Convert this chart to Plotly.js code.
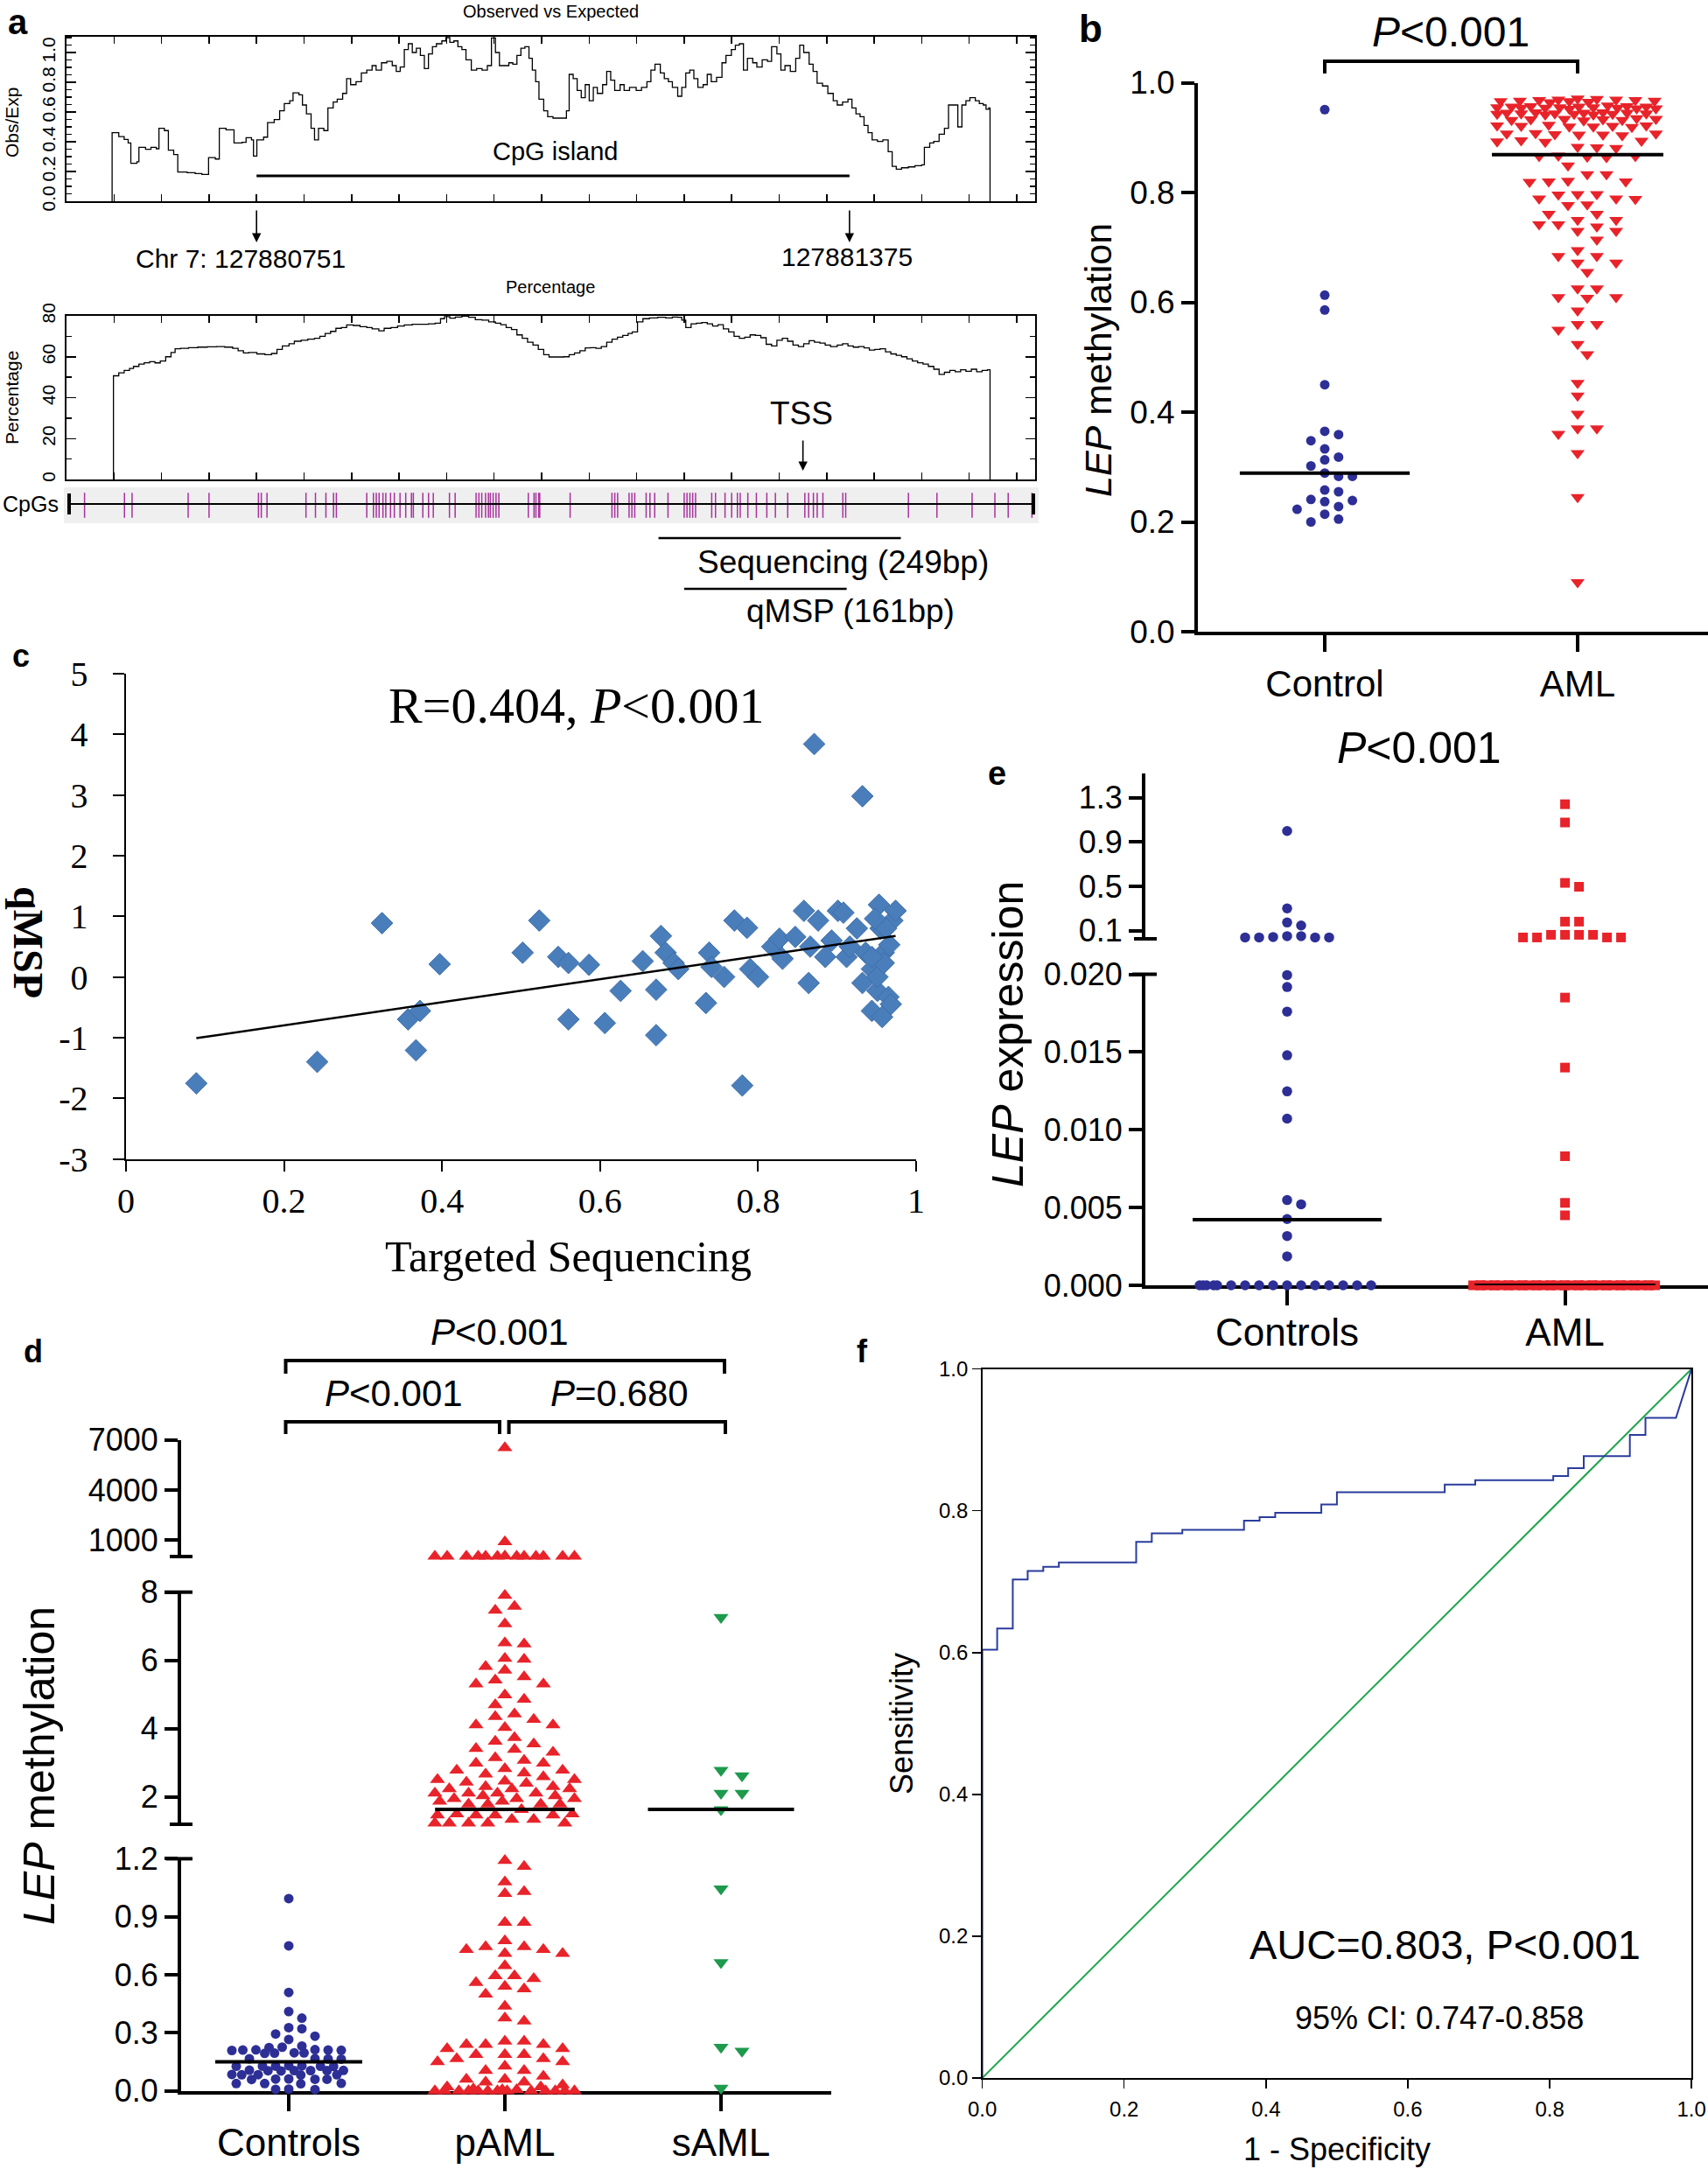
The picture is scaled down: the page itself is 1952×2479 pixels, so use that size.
<!DOCTYPE html>
<html>
<head>
<meta charset="utf-8">
<script src="https://cdn.plot.ly/plotly-3.0.1.min.js"></script>
<style>
  html, body { margin: 0; padding: 0; background: #fff; }
  #fig { width: 1952px; height: 2479px; }
</style>
</head>
<body>
<div id="fig"></div>
<script>
// ---------------- data ----------------

// a: CpG plot, positions in bp from the left edge of the window
const obsExpPos = [48.0, 48.0, 55.0, 60.7, 64.9, 67.7, 74.1, 76.2, 83.2, 88.9, 94.5, 97.3, 103.0, 107.2, 112.8, 117.1, 127.0, 135.4, 142.5, 149.5,
  156.6, 160.8, 167.9, 174.2, 176.3, 184.8, 189.0, 194.7, 196.8, 200.3, 207.4, 211.6, 218.6, 224.3, 229.2, 234.9, 238.4, 244.7, 248.3, 252.5,
  257.4, 261.0, 265.2, 270.8, 275.1, 280.7, 284.9, 290.6, 294.8, 299.0, 304.7, 310.3, 316.0, 321.6, 325.8, 331.5, 337.1, 342.8, 347.0, 351.2,
  355.5, 359.7, 363.9, 368.2, 372.4, 376.6, 380.9, 385.1, 389.3, 395.0, 399.2, 403.4, 407.7, 411.9, 416.1, 420.4, 426.0, 431.6, 437.3, 442.9,
  447.2, 451.4, 455.6, 459.9, 465.5, 469.7, 474.0, 478.2, 482.4, 486.7, 490.2, 493.7, 497.2, 502.2, 506.4, 512.0, 521.9, 526.1, 529.0, 533.2,
  537.4, 541.7, 545.9, 550.1, 554.4, 558.6, 564.2, 568.5, 572.7, 576.9, 582.6, 586.8, 592.5, 599.5, 605.1, 610.8, 615.0, 619.3, 624.9, 629.1,
  633.4, 637.6, 643.2, 647.5, 651.7, 655.9, 660.2, 664.4, 670.0, 674.3, 678.5, 684.1, 689.8, 694.0, 699.7, 703.9, 708.1, 712.4, 716.6, 722.2,
  726.5, 732.1, 737.7, 742.0, 747.6, 751.8, 756.1, 761.7, 767.4, 771.6, 775.8, 781.5, 785.7, 789.9, 795.6, 801.2, 806.9, 811.1, 816.7, 822.4,
  826.6, 830.8, 835.1, 839.3, 843.5, 847.8, 853.4, 859.1, 864.7, 868.9, 873.2, 878.8, 885.9, 892.9, 900.0, 902.8, 908.4, 912.7, 918.3, 923.9,
  928.2, 933.8, 938.0, 942.3, 946.5, 950.7, 956.4, 960.6, 964.8, 967.7, 970.5, 971.9];
const obsExpVal = [0, 0.461, 0.435, 0.416, 0.392, 0.255, 0.265, 0.363, 0.349, 0.363, 0.353, 0.490, 0.475, 0.343, 0.314, 0.196, 0.192, 0.186, 0.180, 0.294,
  0.284, 0.490, 0.480, 0.480, 0.392, 0.396, 0.427, 0.412, 0.304, 0.412, 0.431, 0.529, 0.549, 0.608, 0.657, 0.676, 0.729, 0.716, 0.647, 0.588,
  0.490, 0.412, 0.490, 0.475, 0.627, 0.667, 0.686, 0.725, 0.824, 0.784, 0.804, 0.863, 0.882, 0.912, 0.882, 0.931, 0.941, 0.912, 0.873, 0.902,
  1.020, 1.059, 1.000, 1.029, 0.980, 0.892, 0.990, 1.039, 1.059, 1.078, 1.100, 1.069, 1.078, 1.039, 1.020, 0.951, 0.882, 0.892, 0.882, 0.912,
  1.098, 1.000, 0.912, 0.912, 0.931, 0.922, 0.980, 1.029, 1.039, 0.961, 0.882, 0.804, 0.686, 0.608, 0.569, 0.559, 0.559, 0.608, 0.853, 0.824,
  0.745, 0.696, 0.784, 0.676, 0.765, 0.725, 0.784, 0.873, 0.814, 0.745, 0.784, 0.745, 0.765, 0.745, 0.765, 0.804, 0.882, 0.922, 0.863, 0.824,
  0.804, 0.765, 0.706, 0.765, 0.863, 0.882, 0.824, 0.765, 0.784, 0.853, 0.804, 0.833, 0.931, 0.980, 1.020, 1.049, 1.059, 0.882, 0.961, 0.931,
  0.902, 0.951, 0.941, 1.039, 0.990, 0.882, 0.912, 0.873, 0.961, 1.049, 1.000, 0.922, 0.873, 0.794, 0.775, 0.725, 0.676, 0.647, 0.667, 0.686,
  0.627, 0.588, 0.569, 0.510, 0.461, 0.412, 0.402, 0.412, 0.333, 0.235, 0.216, 0.225, 0.231, 0.239, 0.245, 0.363, 0.392, 0.402, 0.451, 0.490,
  0.647, 0.647, 0.500, 0.647, 0.676, 0.696, 0.676, 0.657, 0.647, 0.618, 0.627, 0];

const pctPos = [49.4, 49.4, 55.0, 60.7, 66.3, 70.5, 76.2, 81.8, 87.5, 93.1, 98.7, 104.4, 110.0, 114.3, 119.9, 128.4, 138.2, 148.1, 158.0, 166.5,
  174.9, 180.6, 186.2, 191.8, 200.3, 208.8, 215.8, 221.5, 227.1, 234.2, 239.8, 246.9, 253.9, 261.0, 266.6, 272.2, 277.9, 283.5, 289.2, 294.8,
  301.9, 308.9, 316.0, 321.6, 328.7, 334.3, 341.4, 348.4, 355.5, 363.9, 372.4, 380.9, 387.9, 393.6, 397.8, 403.4, 409.1, 416.1, 423.2, 430.2,
  437.3, 444.3, 451.4, 457.0, 462.7, 468.3, 474.0, 479.6, 485.2, 490.9, 496.5, 502.2, 507.8, 516.3, 523.3, 529.0, 534.6, 540.3, 545.9, 551.5,
  557.2, 562.8, 568.5, 574.1, 579.8, 585.4, 591.0, 595.3, 600.9, 606.6, 613.6, 622.1, 630.5, 637.6, 643.2, 647.5, 651.7, 657.3, 663.0, 668.6,
  674.3, 679.9, 685.6, 691.2, 696.8, 702.5, 708.1, 713.8, 719.4, 725.0, 730.7, 736.3, 742.0, 747.6, 753.3, 758.9, 764.5, 770.2, 775.8, 781.5,
  787.1, 792.8, 798.4, 804.0, 811.1, 816.7, 822.4, 828.0, 833.7, 839.3, 844.9, 850.6, 856.2, 861.9, 867.5, 873.2, 878.8, 884.4, 890.1, 895.7,
  901.4, 907.0, 912.7, 918.3, 923.9, 929.6, 935.2, 940.9, 946.5, 952.2, 957.8, 963.5, 969.1, 971.9];
const pctVal = [0, 50.7, 52.1, 53.3, 54.3, 55.3, 56.4, 57.1, 57.6, 57.0, 57.9, 60.0, 62.1, 63.9, 64.1, 64.4, 64.7, 64.9, 65.0, 64.7,
  64.1, 62.9, 61.9, 62.1, 61.4, 61.0, 61.6, 63.6, 65.3, 66.4, 67.6, 68.1, 68.6, 69.0, 70.0, 71.4, 72.4, 73.9, 74.3, 75.6,
  75.3, 74.7, 74.3, 73.6, 72.7, 73.9, 74.3, 75.0, 75.6, 75.9, 75.9, 76.1, 76.4, 78.6, 79.6, 78.9, 79.4, 79.9, 79.3, 78.1,
  77.9, 77.1, 76.4, 75.7, 74.3, 73.3, 70.7, 69.0, 67.1, 65.7, 63.6, 61.0, 59.9, 59.9, 60.0, 61.0, 61.9, 62.9, 64.3, 64.4,
  64.1, 65.0, 67.1, 68.6, 69.6, 70.4, 71.4, 72.1, 77.1, 78.6, 79.0, 79.3, 79.0, 79.4, 79.3, 77.9, 74.3, 76.1, 76.4, 76.7,
  76.1, 75.0, 75.7, 73.6, 72.1, 70.0, 69.0, 69.6, 70.7, 70.4, 69.3, 66.1, 65.3, 68.1, 69.0, 67.6, 65.7, 65.0, 66.4, 67.9,
  67.1, 66.7, 65.7, 65.0, 65.7, 66.4, 65.3, 64.7, 65.0, 64.3, 63.3, 63.6, 63.9, 62.4, 61.4, 60.7, 60.0, 59.0, 57.9, 57.1,
  56.4, 55.3, 53.9, 51.4, 52.4, 53.3, 52.7, 53.6, 52.9, 53.9, 52.7, 53.3, 53.6, 0];

const cpgPos = [19, 61, 69, 128, 150, 202, 205, 211, 252, 262, 273, 281, 284, 316, 323, 326, 329, 333, 336, 341,
  345, 351, 357, 363, 365, 375, 381, 386, 403, 409, 431, 434, 437, 441, 444, 446, 449, 452, 455, 486,
  492, 494, 497, 498, 530, 574, 577, 580, 592, 595, 598, 610, 614, 619, 633, 650, 653, 656, 659, 662,
  679, 683, 693, 700, 706, 709, 717, 726, 737, 746, 759, 777, 781, 786, 790, 796, 817, 820, 886, 916,
  953, 977, 991, 1016];
const islandRange = [200, 824];
const tssPos = 775;
const seqRange = [623, 878];
const qmspRange = [650, 821];

// b: LEP methylation (targeted sequencing)
const bGroups = ['Control', 'AML'];
const bControl = [0.951, 0.613, 0.586, 0.450, 0.365, 0.359, 0.348, 0.333, 0.318, 0.313, 0.302, 0.289,
  0.283, 0.283, 0.258, 0.255, 0.241, 0.237, 0.239, 0.228, 0.223, 0.214, 0.205, 0.200];
const bAML = [0.970, 0.968, 0.966, 0.969, 0.967, 0.965, 0.971, 0.968, 0.966, 0.969, 0.967, 0.964,
  0.957, 0.955, 0.953, 0.956, 0.954, 0.958, 0.955, 0.952, 0.956, 0.954, 0.957, 0.953, 0.955, 0.956, 0.954,
  0.945, 0.943, 0.946, 0.944, 0.942, 0.945, 0.943, 0.946, 0.944, 0.942, 0.945, 0.943, 0.944,
  0.934, 0.932, 0.935, 0.933, 0.931, 0.934, 0.932, 0.933,
  0.922, 0.920, 0.923, 0.921, 0.919, 0.922, 0.920, 0.921,
  0.907, 0.905, 0.908, 0.906, 0.904, 0.907, 0.905,
  0.895, 0.893, 0.894, 0.892, 0.883, 0.881, 0.882,
  0.867, 0.865, 0.866, 0.864, 0.866, 0.849, 0.833, 0.833,
  0.820, 0.820, 0.819, 0.821, 0.797, 0.797, 0.796, 0.789, 0.789, 0.788,
  0.778, 0.777, 0.761, 0.761, 0.750, 0.750, 0.742, 0.742, 0.738, 0.730, 0.730,
  0.714, 0.695, 0.684, 0.684, 0.672, 0.672, 0.655, 0.625, 0.625,
  0.609, 0.609, 0.608, 0.585, 0.560, 0.560, 0.550, 0.524, 0.505,
  0.453, 0.430, 0.397, 0.370, 0.370, 0.360, 0.325, 0.245, 0.090];
const bMedians = [0.289, 0.869];

// c: correlation targeted sequencing vs qMSP
const seqMeth = [0.089, 0.242, 0.324, 0.357, 0.372, 0.367, 0.397, 0.502, 0.523, 0.547,
  0.560, 0.560, 0.586, 0.606, 0.626, 0.654, 0.671, 0.671, 0.677, 0.683,
  0.693, 0.699, 0.734, 0.738, 0.741, 0.757, 0.770, 0.786, 0.780, 0.790,
  0.800, 0.818, 0.827, 0.831, 0.847, 0.858, 0.864, 0.866, 0.871, 0.876,
  0.885, 0.893, 0.901, 0.908, 0.912, 0.916, 0.932, 0.925, 0.932, 0.936,
  0.944, 0.944, 0.953, 0.955, 0.959, 0.951, 0.965, 0.968, 0.957, 0.970,
  0.974, 0.966, 0.962, 0.948, 0.951, 0.959, 0.944];
const qmspMeth = [-1.755, -1.40, 0.887, -0.70, -0.56, -1.21, 0.21, 0.40, 0.93, 0.33,
  0.23, -0.70, 0.20, -0.76, -0.23, 0.26, -0.21, -0.96, 0.675, 0.40,
  0.23, 0.13, -0.43, 0.40, 0.165, 0.0, 0.93, 0.81, -1.79, 0.13,
  0.0, 0.50, 0.63, 0.30, 0.66, 1.09, -0.10, 0.50, 3.84, 0.93,
  0.33, 0.60, 1.09, 1.06, 0.33, 0.50, 2.98, 0.80, -0.10, 0.40,
  0.13, -0.56, 1.19, 0.80, 0.40, -0.23, -0.33, -0.45, -0.66, 0.93,
  1.09, 0.53, 0.80, 0.96, 0.0, 0.23, 0.33];
const fitSlope = 1.904, fitIntercept = -1.179;

// d: LEP methylation (qMSP)
const dGroups = ['Controls', 'pAML', 'sAML'];
const dControls = [0.994, 0.75, 0.509, 0.41, 0.376, 0.321, 0.327, 0.283, 0.294, 0.266,
  0.232, 0.226, 0.224, 0.212, 0.211, 0.21, 0.213, 0.209, 0.211, 0.196, 0.195, 0.197, 0.194,
  0.165, 0.166, 0.164, 0.167, 0.128, 0.127, 0.129, 0.126, 0.128, 0.127, 0.13,
  0.105, 0.106, 0.104, 0.105, 0.107, 0.103, 0.105, 0.083, 0.084, 0.082, 0.083, 0.085,
  0.06, 0.061, 0.059, 0.06, 0.062, 0.038, 0.039, 0.037, 0.038, 0.008, 0.009, 0.007];
const dPAML = [6511, 900, 45, 40, 38, 42, 50, 36, 44, 39, 47, 41, 37, 43, 46,
  7.9, 7.47, 7.58, 7.07, 6.48, 6.51, 6.03, 6.06, 5.82, 5.71, 5.52, 5.31, 5.31, 5.42,
  4.99, 4.86, 4.70, 4.43, 4.35, 4.27, 4.11, 4.03, 4.11, 3.74, 3.63, 3.55, 3.39, 3.42,
  3.31, 3.15, 3.07, 2.99, 2.99, 2.78, 2.78, 2.83, 2.70, 2.67, 2.59, 2.51, 2.51, 2.46,
  2.43, 2.40, 2.30, 2.30, 2.24, 2.24, 2.24, 2.11, 2.11, 2.11, 2.11, 2.03, 2.03,
  1.95, 1.95, 1.95, 1.87, 1.87, 1.79, 1.79, 1.79, 1.79, 1.63, 1.50, 1.50,
  1.47, 1.47, 1.47, 1.47, 1.34, 1.34, 1.23, 1.23, 1.23, 1.23, 1.23,
  1.19, 1.16, 1.08, 1.03, 1.02, 0.87, 0.87, 0.775, 0.745, 0.745, 0.73, 0.73, 0.71, 0.71,
  0.647, 0.595, 0.595, 0.58, 0.56, 0.54, 0.527, 0.50, 0.437, 0.376, 0.36,
  0.256, 0.256, 0.24, 0.24, 0.24, 0.218, 0.218, 0.188, 0.188, 0.188, 0.166, 0.166,
  0.15, 0.15, 0.128, 0.105, 0.105, 0.075, 0.06, 0.06, 0.045, 0.045, 0.03, 0.02, 0.02,
  0.01, 0.005, 0.005, 0, 0, 0, 0, 0, 0, 0, 0, 0, 0, 0, 0, 0];
const dSAML = [7.26, 2.78, 2.62, 2.11, 2.11, 1.63, 1.045, 0.664, 0.226, 0.206, 0.014];
const dMedians = [0.15, 1.636, 1.636];
const dBrackets = ['<i>P</i>&lt;0.001', '<i>P</i>&lt;0.001', '<i>P</i>=0.680'];

// e: LEP expression
const eGroups = ['Controls', 'AML'];
const eControls = [1.0, 0.30, 0.173, 0.146, 0.05, 0.042, 0.038, 0.038, 0.038, 0.038, 0.05,
  0.01995, 0.01918, 0.0176, 0.01479, 0.01247, 0.01072, 0.00548, 0.00521, 0.00426, 0.00317, 0.00186,
  0, 0, 0, 0, 0, 0, 0, 0, 0, 0, 0, 0, 0, 0, 0, 0];
const eAML = [1.242, 1.077, 0.531, 0.496, 0.181, 0.181, 0.062, 0.062, 0.062, 0.062, 0.038, 0.038, 0.038, 0.038,
  0.0185, 0.0140, 0.0083, 0.0053, 0.0045,
  0, 0, 0, 0, 0, 0, 0, 0, 0, 0, 0, 0, 0, 0, 0, 0, 0, 0, 0, 0,
  0, 0, 0, 0, 0, 0, 0, 0, 0, 0, 0, 0, 0, 0, 0, 0, 0, 0, 0, 0];
const eMedians = [0.00422, 0];

// f: ROC curve
const rocFpr = [0, 0, 0.021, 0.043, 0.064, 0.086, 0.108, 0.217, 0.239, 0.282, 0.369, 0.391,
  0.413, 0.478, 0.500, 0.652, 0.695, 0.805, 0.826, 0.848, 0.913, 0.935, 0.978, 1.0];
const rocTpr = [0, 0.604, 0.634, 0.703, 0.715, 0.721, 0.727, 0.756, 0.768, 0.773, 0.786, 0.791,
  0.797, 0.809, 0.826, 0.837, 0.843, 0.849, 0.860, 0.877, 0.907, 0.931, 0.931, 1.0];

// ---------------- page geometry ----------------
const W = 1952, H = 2479;
const SANS = 'Liberation Sans, Arial, Helvetica, sans-serif';
const SERIF = 'Liberation Serif, Times New Roman, serif';
const BLUE = '#2d2f96', RED = '#e8232a', GREEN = '#1d9a4c';
const fx = p => p / W;
const fy = p => 1 - p / H;
const bpMax = (1183 - 76) / 1.086;

const B = { x0: 1369, cat0: 1514, unit: 289 };
const E = { x0: 1309, cat0: 1471, unit: 317.6 };
const D = { x0: 207, x1: 950, cat0: 330, unit: 247 };
const bSegs = { main: { y0: 94.5, y1: 722, r: [0, 1.0], axis: 'y4' } };
const eSegs = {
  bot: { y0: 1113.5, y1: 1469, r: [0, 0.020], axis: 'y6' },
  top: { y0: 884, y1: 1073, r: [0.0256, 1.52], axis: 'y7' }
};
const dSegs = {
  bot: { y0: 2124.4, y1: 2389.7, r: [0, 1.2], axis: 'y8' },
  mid: { y0: 1819.7, y1: 2085, r: [1.2, 8], axis: 'y9' },
  top: { y0: 1645.5, y1: 1779, r: [28, 7000], axis: 'y10' }
};

function yPix(v, s) {
  return s.y1 - (v - s.r[0]) / (s.r[1] - s.r[0]) * (s.y1 - s.y0);
}

// simple beeswarm: returns horizontal pixel offsets for points at pixel heights pys
function swarm(pys, w, h, step, cap) {
  const order = pys.map((_, i) => i).sort((a, b) => pys[a] - pys[b]);
  const placed = [];
  const off = new Array(pys.length).fill(0);
  const dist = (x, y) => {
    let m = Infinity;
    placed.forEach(p => {
      const dx = (p.x - x) / w, dy = (p.y - y) / h;
      m = Math.min(m, dx * dx + dy * dy);
    });
    return m;
  };
  order.forEach(i => {
    const y = pys[i];
    let pos = null;
    for (let k = 0; k * step <= cap + 1e-6 && pos === null; k++) {
      const cands = k === 0 ? [0] : [k * step, -k * step];
      for (const c of cands) {
        if (dist(c, y) >= 0.999) { pos = c; break; }
      }
    }
    if (pos === null) {
      // row is full: squeeze into the widest gap left
      let best = -1;
      for (let c = -cap; c <= cap + 1e-6; c += step / 2) {
        const d = dist(c, y);
        if (d > best) { best = d; pos = c; }
      }
    }
    off[i] = pos;
    placed.push({ x: pos, y: y });
  });
  return off;
}

function groupTraces(vals, ci, geom, segs, pick, sw, marker, xa) {
  const pys = vals.map(v => yPix(v, segs[pick(v)]));
  const off = swarm(pys, sw[0], sw[1], sw[2], sw[3]);
  const groups = {};
  vals.forEach((v, i) => {
    const s = pick(v);
    groups[s] = groups[s] || { x: [], y: [] };
    groups[s].x.push(ci + off[i] / geom.unit);
    groups[s].y.push(v);
  });
  return Object.keys(groups).map(s => ({
    type: 'scatter', mode: 'markers', x: groups[s].x, y: groups[s].y,
    xaxis: xa, yaxis: segs[s].axis, marker: marker, cliponaxis: false, hoverinfo: 'skip'
  }));
}

const pickB = () => 'main';
const pickE = v => (v <= 0.020 ? 'bot' : 'top');
const pickD = v => (v <= 1.2 ? 'bot' : (v <= 8 ? 'mid' : 'top'));

// ---------------- traces ----------------
const traces = [];

traces.push({ type: 'scatter', mode: 'lines', x: obsExpPos, y: obsExpVal, xaxis: 'x', yaxis: 'y',
  line: { shape: 'hv', color: '#000', width: 1.3 }, hoverinfo: 'skip' });
traces.push({ type: 'scatter', mode: 'lines', x: pctPos, y: pctVal, xaxis: 'x2', yaxis: 'y2',
  line: { shape: 'hv', color: '#000', width: 1.3 }, hoverinfo: 'skip' });

const cx = [], cy = [];
cpgPos.forEach(p => { cx.push(p, p, null); cy.push(0.15, 0.85, null); });
traces.push({ type: 'scatter', mode: 'lines', x: cx, y: cy, xaxis: 'x3', yaxis: 'y3',
  line: { color: '#a8329e', width: 1.5 }, hoverinfo: 'skip' });

// b
traces.push(...groupTraces(bControl, 0, B, bSegs, pickB, [15.8, 12, 15.8, 60],
  { symbol: 'circle', size: 11, color: BLUE }, 'x4'));
traces.push(...groupTraces(bAML, 1, B, bSegs, pickB, [22, 12, 11, 92],
  { symbol: 'triangle-down', size: 14, color: RED }, 'x4'));

// c
traces.push({ type: 'scatter', mode: 'markers', x: seqMeth, y: qmspMeth, xaxis: 'x5', yaxis: 'y5',
  marker: { symbol: 'diamond', size: 19, color: '#4a7ebb', line: { color: '#3f6ea8', width: 1 } }, hoverinfo: 'skip' });
const fitX = [Math.min(...seqMeth), Math.max(...seqMeth)];
traces.push({ type: 'scatter', mode: 'lines', x: fitX, y: fitX.map(v => fitIntercept + fitSlope * v),
  xaxis: 'x5', yaxis: 'y5', line: { color: '#000', width: 2.5 }, hoverinfo: 'skip' });

// e
traces.push(...groupTraces(eControls, 0, E, eSegs, pickE, [16, 11, 16, 100],
  { symbol: 'circle', size: 11.5, color: BLUE }, 'x6'));
traces.push(...groupTraces(eAML, 1, E, eSegs, pickE, [16, 11, 16, 105],
  { symbol: 'square', size: 11, color: RED }, 'x6'));

// d
traces.push(...groupTraces(dControls, 0, D, dSegs, pickD, [15, 10, 7.5, 65],
  { symbol: 'circle', size: 11, color: BLUE }, 'x8'));
traces.push(...groupTraces(dPAML, 1, D, dSegs, pickD, [22, 13, 11, 80],
  { symbol: 'triangle-up', size: 15, color: RED }, 'x8'));
traces.push(...groupTraces(dSAML, 2, D, dSegs, pickD, [24, 13, 24, 40],
  { symbol: 'triangle-down', size: 15, color: GREEN }, 'x8'));

// f
const rx = [rocFpr[0]], ry = [rocTpr[0]];
for (let i = 1; i < rocFpr.length - 1; i++) {
  rx.push(rocFpr[i], rocFpr[i]);
  ry.push(rocTpr[i - 1], rocTpr[i]);
}
rx.push(rocFpr[rocFpr.length - 1]);
ry.push(rocTpr[rocTpr.length - 1]);
traces.push({ type: 'scatter', mode: 'lines', x: [0, 1], y: [0, 1], xaxis: 'x11', yaxis: 'y11',
  line: { color: '#1ea34a', width: 2 }, hoverinfo: 'skip' });
traces.push({ type: 'scatter', mode: 'lines', x: rx, y: ry, xaxis: 'x11', yaxis: 'y11',
  line: { color: '#2a3c9c', width: 2 }, hoverinfo: 'skip' });

// ---------------- axes ----------------
const base = { showgrid: false, zeroline: false, showline: true, linecolor: '#000', tickcolor: '#000' };
const ax = o => Object.assign({}, base, o);

const aX = { range: [0, bpMax], ticks: 'inside', ticklen: 8, tickwidth: 1.5, dtick: 50, tick0: 0,
  showticklabels: false, mirror: 'ticks', linewidth: 2 };
const aY = { ticks: 'inside', ticklen: 11, tickwidth: 1.5, mirror: 'ticks', linewidth: 2, tickangle: -90,
  tickfont: { family: SANS, size: 21 }, ticklabelstandoff: 3 };

const bigY = { ticks: 'outside', ticklen: 15, tickwidth: 4, linewidth: 4, tickfont: { family: SANS, size: 36 } };
const bigX = { ticks: 'outside', ticklen: 19, tickwidth: 4, linewidth: 4, tickfont: { family: SANS, size: 44 },
  layer: 'below traces' };

const layout = {
  width: W, height: H, margin: { l: 0, r: 0, t: 0, b: 0 },
  paper_bgcolor: '#fff', plot_bgcolor: 'rgba(0,0,0,0)', showlegend: false,
  font: { family: SANS, color: '#000' },

  xaxis: ax(Object.assign({}, aX, { domain: [fx(76), fx(1183)], anchor: 'y' })),
  yaxis: ax(Object.assign({}, aY, { domain: [fy(230), fy(42)], anchor: 'x', range: [0, 1.106],
    tickvals: [0, 0.2, 0.4, 0.6, 0.8, 1.0], ticktext: ['0.0', '0.2', '0.4', '0.6', '0.8', '1.0'],
    minor: { ticks: 'inside', ticklen: 6, dtick: 0.05, tick0: 0, tickcolor: '#000' } })),
  xaxis2: ax(Object.assign({}, aX, { domain: [fx(76), fx(1183)], anchor: 'y2' })),
  yaxis2: ax(Object.assign({}, aY, { domain: [fy(548), fy(361)], anchor: 'x2', range: [0, 80],
    tickvals: [0, 20, 40, 60, 80],
    minor: { ticks: 'inside', ticklen: 6, dtick: 10, tick0: 0, tickcolor: '#000' } })),
  xaxis3: { domain: [fx(76), fx(1183)], range: [0, bpMax], anchor: 'y3', visible: false },
  yaxis3: { domain: [fy(598), fy(557)], range: [0, 1], anchor: 'x3', visible: false },

  xaxis4: ax(Object.assign({}, bigX, { domain: [fx(B.x0), 1], anchor: 'y4',
    range: [(B.x0 - B.cat0) / B.unit, (W - B.cat0) / B.unit],
    tickvals: [0, 1], ticktext: bGroups, tickfont: { family: SANS, size: 42 }, ticklabelstandoff: 1 })),
  yaxis4: ax(Object.assign({}, bigY, { domain: [fy(722), fy(94.5)], anchor: 'x4', range: [0, 1],
    dtick: 0.2, tickformat: '.1f', tickfont: { family: SANS, size: 37 } })),

  xaxis5: ax({ domain: [fx(144), fx(1047)], anchor: 'y5', range: [0, 1], linewidth: 2.5,
    ticks: 'outside', ticklen: 12, tickwidth: 2, tickvals: [0, 0.2, 0.4, 0.6, 0.8, 1],
    ticktext: ['0', '0.2', '0.4', '0.6', '0.8', '1'], tickfont: { family: SERIF, size: 40 }, ticklabelstandoff: -1 }),
  yaxis5: ax({ domain: [fy(1324.5), fy(770)], anchor: 'x5', range: [-3, 5], linewidth: 2.5,
    ticks: 'outside', ticklen: 13, tickwidth: 2, tickvals: [-3, -2, -1, 0, 1, 2, 3, 4, 5],
    ticktext: ['-3', '-2', '-1', '0', '1', '2', '3', '4', '5'], tickfont: { family: SERIF, size: 40 },
    ticklabelstandoff: 20 }),

  xaxis6: ax(Object.assign({}, bigX, { domain: [fx(E.x0), 1], anchor: 'y6',
    range: [(E.x0 - E.cat0) / E.unit, (W - E.cat0) / E.unit],
    tickvals: [0, 1], ticktext: eGroups, ticklabelstandoff: -7 })),
  yaxis6: ax(Object.assign({}, bigY, { domain: [fy(1469), fy(1113.5)], anchor: 'x6', range: [0, 0.020],
    tickvals: [0, 0.005, 0.010, 0.015, 0.020], tickformat: '.3f' })),
  yaxis7: ax(Object.assign({}, bigY, { domain: [fy(1073), fy(884)], anchor: 'x6', range: [0.0256, 1.52],
    tickvals: [0.1, 0.5, 0.9, 1.3], tickformat: '.1f' })),

  xaxis8: ax(Object.assign({}, bigX, { domain: [fx(D.x0), fx(D.x1)], anchor: 'y8',
    range: [(D.x0 - D.cat0) / D.unit, (D.x1 - D.cat0) / D.unit],
    tickvals: [0, 1, 2], ticktext: dGroups, ticklabelstandoff: -2 })),
  yaxis8: ax(Object.assign({}, bigY, { domain: [fy(2389.7), fy(2124.4)], anchor: 'x8', range: [0, 1.2],
    tickvals: [0, 0.3, 0.6, 0.9, 1.2], tickformat: '.1f' })),
  yaxis9: ax(Object.assign({}, bigY, { domain: [fy(2085), fy(1819.7)], anchor: 'x8', range: [1.2, 8],
    tickvals: [2, 4, 6, 8] })),
  yaxis10: ax(Object.assign({}, bigY, { domain: [fy(1779), fy(1645.5)], anchor: 'x8', range: [28, 7000],
    tickvals: [1000, 4000, 7000], ticktext: ['1000', '4000', '7000'] })),

  xaxis11: ax({ domain: [fx(1122.6), fx(1933.2)], anchor: 'y11', range: [0, 1], mirror: true, linewidth: 1.5,
    ticks: 'outside', ticklen: 10, tickwidth: 1.5, dtick: 0.2, tickformat: '.1f',
    tickfont: { family: SANS, size: 24 }, ticklabelstandoff: 4 }),
  yaxis11: ax({ domain: [fy(2375), fy(1564.6)], anchor: 'x11', range: [0, 1], mirror: true, linewidth: 1.5,
    ticks: 'outside', ticklen: 10, tickwidth: 1.5, dtick: 0.2, tickformat: '.1f',
    tickfont: { family: SANS, size: 24 } })
};

// ---------------- annotations ----------------
function ann(text, x, y, size, extra) {
  return Object.assign({ xref: 'paper', yref: 'paper', x: fx(x), y: fy(y), text: text, showarrow: false,
    xanchor: 'center', yanchor: 'middle', font: { family: SANS, size: size, color: '#000' } }, extra || {});
}
function arrow(xref, x, yTip, len) {
  return { xref: xref, yref: 'paper', x: x, y: fy(yTip), ax: 0, ay: -len, text: '', showarrow: true,
    arrowhead: 2, arrowsize: 1.3, arrowwidth: 1.6, arrowcolor: '#000' };
}

const annotations = [
  ann('<b>a</b>', 20, 25, 40),
  ann('<b>b</b>', 1246, 32, 44),
  ann('<b>c</b>', 24, 749, 36),
  ann('<b>d</b>', 38, 1544, 36),
  ann('<b>e</b>', 1139, 884, 38),
  ann('<b>f</b>', 985, 1544, 36),

  ann('Observed vs Expected', 629, 13, 20),
  ann('Obs/Exp', 13, 140, 21, { textangle: -90 }),
  ann('CpG island', 634, 173, 29),
  ann('Chr 7: 127880751', 275, 295, 30),
  ann('127881375', 968, 293, 30),
  ann('Percentage', 629, 328, 20),
  ann('Percentage', 13, 455, 21, { textangle: -90 }),
  ann('CpGs', 35, 576, 25),
  ann('TSS', 916, 473, 37),
  ann('Sequencing (249bp)', 963, 642, 37),
  ann('qMSP (161bp)', 972, 698, 37),
  arrow('x', islandRange[0], 277, 38),
  arrow('x', islandRange[1], 277, 38),
  arrow('x2', tssPos, 538, 36),

  ann('<i>LEP</i> methylation', 1255, 412, 43, { textangle: -90 }),
  ann('<i>P</i>&lt;0.001', 1658, 36, 48),

  ann('R=0.404, <i>P</i>&lt;0.001', 659, 807, 58, { font: { family: SERIF, size: 58, color: '#000' } }),
  ann('<b>qMSP</b>', 32, 1077, 48, { textangle: 90, font: { family: SERIF, size: 48, color: '#000' } }),
  ann('Targeted Sequencing', 649, 1436, 50, { font: { family: SERIF, size: 50, color: '#000' } }),

  ann('<i>LEP</i> methylation', 45, 2018, 50, { textangle: -90 }),
  ann(dBrackets[0], 571, 1522, 42),
  ann(dBrackets[1], 450, 1592, 42),
  ann(dBrackets[2], 708, 1592, 42),

  ann('<i>LEP</i> expression', 1152, 1182, 50, { textangle: -90 }),
  ann('<i>P</i>&lt;0.001', 1622, 855, 50),

  ann('Sensitivity', 1030, 1970, 36, { textangle: -90 }),
  ann('1 - Specificity', 1528, 2456, 36),
  ann('AUC=0.803, P&lt;0.001', 1651, 2222, 47),
  ann('95% CI: 0.747-0.858', 1645, 2306, 36)
];

// ---------------- shapes ----------------
function seg(x0, y0, x1, y1, w, color) {
  return { type: 'line', xref: 'paper', yref: 'paper', x0: fx(x0), y0: fy(y0), x1: fx(x1), y1: fy(y1),
    line: { color: color || '#000', width: w } };
}
function bracket(x0, x1, yTop, yEnd, w) {
  return { type: 'path', xref: 'paper', yref: 'paper',
    path: `M${fx(x0)},${fy(yEnd)} L${fx(x0)},${fy(yTop)} L${fx(x1)},${fy(yTop)} L${fx(x1)},${fy(yEnd)}`,
    line: { color: '#000', width: w } };
}
function median(xa, ya, ci, half, v) {
  return { type: 'line', xref: xa, yref: ya, x0: ci - half, x1: ci + half, y0: v, y1: v,
    line: { color: '#000', width: 4 }, layer: 'above' };
}

const shapes = [
  // a
  { type: 'line', xref: 'x', yref: 'y', x0: islandRange[0], x1: islandRange[1], y0: 0.171, y1: 0.171,
    line: { color: '#000', width: 3 } },
  { type: 'rect', xref: 'paper', yref: 'paper', x0: fx(73), x1: fx(1187), y0: fy(598), y1: fy(557),
    fillcolor: '#efefef', line: { width: 0 }, layer: 'below' },
  seg(79, 576, 1181, 576, 2),
  seg(79, 564, 79, 588, 4),
  seg(1181, 564, 1181, 588, 4),
  { type: 'line', xref: 'x3', yref: 'paper', x0: seqRange[0], x1: seqRange[1], y0: fy(615), y1: fy(615),
    line: { color: '#000', width: 2.5 } },
  { type: 'line', xref: 'x3', yref: 'paper', x0: qmspRange[0], x1: qmspRange[1], y0: fy(673), y1: fy(673),
    line: { color: '#000', width: 2.5 } },

  // b
  bracket(1514, 1803, 70, 84, 4),
  median('x4', 'y4', 0, 0.336, bMedians[0]),
  median('x4', 'y4', 1, 0.339, bMedians[1]),

  // d
  bracket(326.5, 828, 1555, 1570, 4),
  bracket(326.5, 571, 1625, 1639, 4),
  bracket(581.6, 829, 1625, 1639, 4),
  seg(194, 1779, 220, 1779, 4),
  seg(188, 1819.7, 220, 1819.7, 4),
  seg(194, 2085, 220, 2085, 4),
  seg(190, 2124.4, 220, 2124.4, 4),
  median('x8', 'y8', 0, 0.34, dMedians[0]),
  median('x8', 'y9', 1, 0.323, dMedians[1]),
  median('x8', 'y9', 2, 0.338, dMedians[2]),

  // e
  seg(1296, 1073, 1322, 1073, 4),
  seg(1294, 1113.5, 1322, 1113.5, 4),
  median('x6', 'y6', 0, 0.34, eMedians[0]),
  median('x6', 'y6', 1, 0.325, eMedians[1])
];

layout.annotations = annotations;
layout.shapes = shapes;

Plotly.newPlot('fig', traces, layout, { staticPlot: true, displayModeBar: false });
</script>
</body>
</html>
